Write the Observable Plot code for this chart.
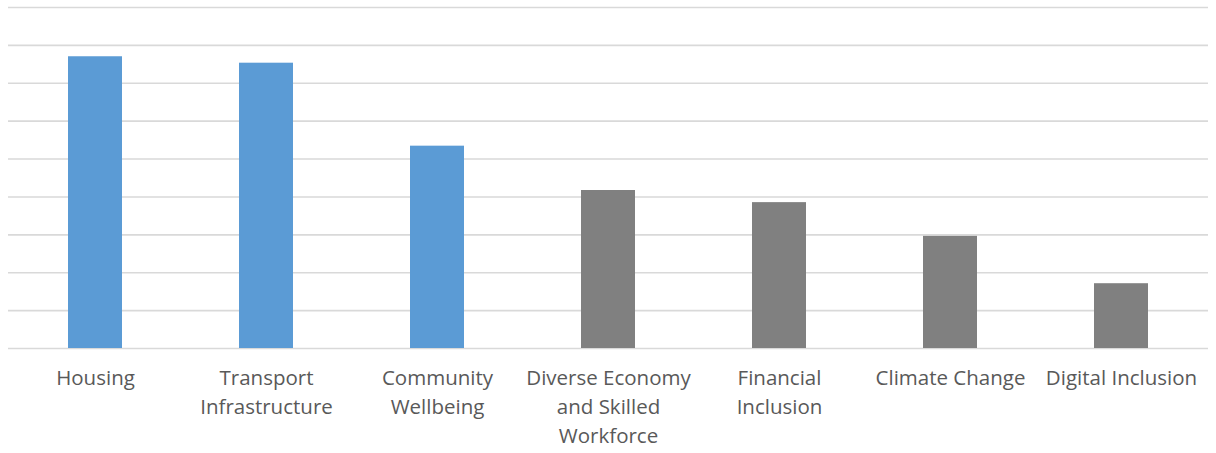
<!DOCTYPE html>
<html>
<head>
<meta charset="utf-8">
<script src="https://cdn.jsdelivr.net/npm/d3@7"></script>
<script src="https://cdn.jsdelivr.net/npm/@observablehq/plot@0.6"></script>
<style>
  html, body { margin: 0; padding: 0; background: #fff; }
  #chart svg { display: block; }
</style>
</head>
<body>
<div id="chart"></div>
<script>
const categories = ["Housing", "Transport Infrastructure", "Community Wellbeing", "Diverse Economy and Skilled Workforce", "Financial Inclusion", "Climate Change", "Digital Inclusion"];
const tickLabels = ["Housing", "Transport\nInfrastructure", "Community\nWellbeing", "Diverse Economy\nand Skilled\nWorkforce", "Financial\nInclusion", "Climate Change", "Digital Inclusion"];
const values = [77, 75.3, 53.4, 41.7, 38.5, 29.6, 17.1];
const groups = ["A", "A", "A", "B", "B", "B", "B"];
const gridTicks = [0, 10, 20, 30, 40, 50, 60, 70, 80, 90];

const data = categories.map((c, i) => ({category: c, value: values[i], group: groups[i]}));
const labelOf = new Map(categories.map((c, i) => [c, tickLabels[i]]));

const chart = Plot.plot({
  width: 1216,
  height: 453,
  marginTop: 7,
  marginBottom: 105,
  marginLeft: 8,
  marginRight: 8,
  style: {fontFamily: "'Open Sans', sans-serif", background: "#fff"},
  x: {domain: categories, paddingInner: 0.685, paddingOuter: 0.3425, axis: null, label: null},
  y: {domain: [0, 90], axis: null},
  color: {domain: ["A", "B"], range: ["#5b9bd5", "#808080"]},
  marks: [
    Plot.ruleY(gridTicks, {stroke: "#d9d9d9", strokeWidth: 1.6}),
    Plot.barY(data, {x: "category", y: "value", fill: "group"}),
    Plot.axisX({
      label: null,
      tickSize: 0,
      tickPadding: 16,
      fontSize: 20.5,
      lineHeight: 1.42,
      fill: "#595959",
      tickFormat: d => labelOf.get(d)
    })
  ]
});
document.getElementById("chart").appendChild(chart);
</script>
</body>
</html>
